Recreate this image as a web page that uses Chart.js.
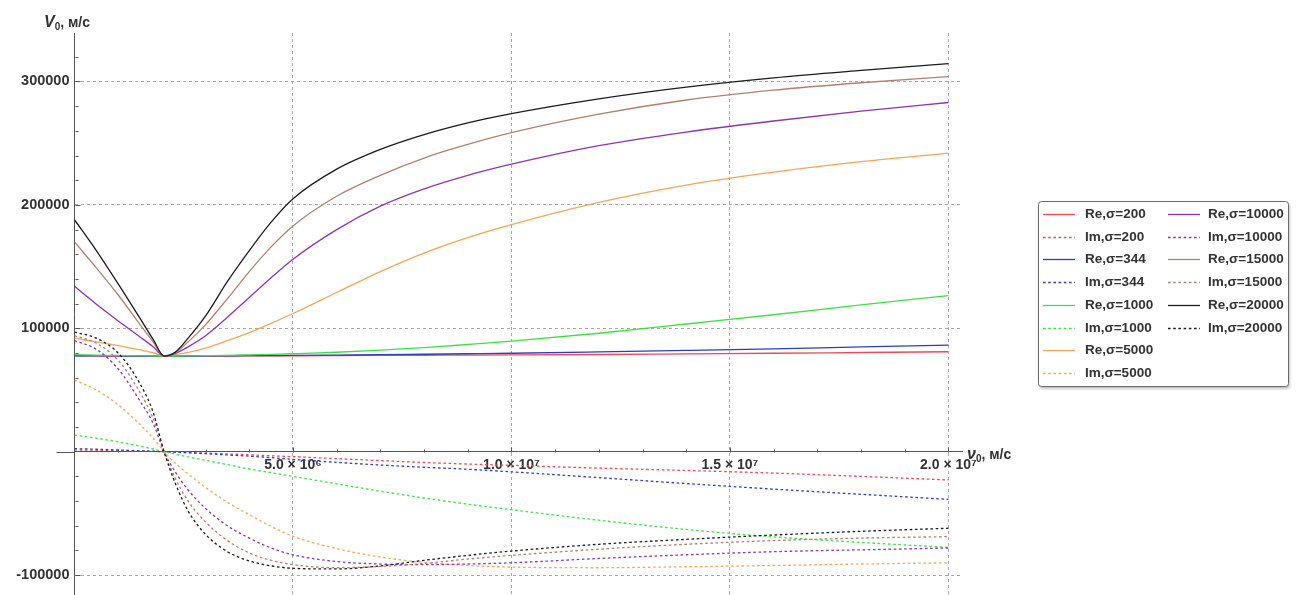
<!DOCTYPE html>
<html>
<head>
<meta charset="utf-8">
<script src="https://cdn.jsdelivr.net/npm/chart.js@4.4.1/dist/chart.umd.min.js"></script>
<style>
  html, body { margin: 0; padding: 0; background: #ffffff; }
  canvas { display: block; }
</style>
</head>
<body>
<canvas id="chart" width="1296" height="595"></canvas>
<script>
// Sample points of the initial velocity v0 (м/с)
const v0 = [0, 500000, 1000000, 1500000, 1800000, 2050000, 2300000, 2600000, 3000000, 3500000,
            4000000, 4500000, 5000000, 6000000, 7000000, 8000000, 9000000, 10000000,
            12000000, 14000000, 16000000, 18000000, 20000000];

const sigmas = [200, 344, 1000, 5000, 10000, 15000, 20000];

// Real parts of V0 for each sigma
const re200   = [77600, 77600, 77550, 77500, 77500, 77500, 77500, 77500, 77500, 77550, 77600, 77650, 77700, 77850, 78000, 78150, 78300, 78450, 78800, 79300, 79800, 80400, 81000];
const re344   = [77700, 77650, 77600, 77550, 77500, 77500, 77500, 77550, 77600, 77700, 77800, 77900, 78000, 78300, 78600, 79000, 79400, 79800, 80900, 82100, 83400, 84900, 86400];
const re1000  = [78600, 78300, 78000, 77700, 77600, 77500, 77550, 77650, 77800, 78100, 78500, 78900, 79400, 80600, 82300, 84400, 86900, 89600, 96000, 103500, 111000, 119000, 126500];
const re5000  = [92000, 89000, 86000, 82500, 80200, 77500, 78600, 80500, 84000, 90000, 96500, 104000, 112000, 129000, 146000, 161000, 173500, 184000, 202000, 216000, 226500, 235000, 242000];
const re10000 = [134000, 119500, 106000, 93000, 85000, 77500, 79500, 85000, 94000, 109000, 125000, 141000, 156000, 180000, 199000, 213000, 224000, 233000, 248000, 259000, 268000, 276000, 283000];
const re15000 = [170000, 149000, 127000, 103000, 89000, 77500, 80000, 89000, 103000, 124000, 146000, 166000, 183000, 207000, 224000, 238000, 249000, 258500, 273500, 285000, 293000, 299000, 304000];
const re20000 = [188000, 163000, 136000, 108000, 91000, 77500, 80500, 92000, 110000, 138000, 163000, 186000, 205000, 229000, 245000, 257000, 266500, 274000, 286000, 295500, 303000, 309000, 314500];

// Imaginary parts of V0 for each sigma
const im200   = [1500, 1200, 850, 500, 250, 0, -250, -600, -1100, -1800, -2500, -3300, -4000, -5600, -7200, -8700, -10000, -11000, -13300, -15200, -17300, -20000, -22900];
const im344   = [2500, 2000, 1400, 800, 400, 0, -400, -900, -1600, -2600, -3600, -4800, -6200, -8600, -10800, -12600, -14200, -16300, -21000, -25800, -30300, -34500, -38600];
const im1000  = [13500, 11000, 8000, 4500, 2200, 0, -2000, -4200, -7000, -10500, -14000, -17000, -20000, -26000, -32000, -37500, -42500, -47000, -55500, -63000, -69000, -73500, -77500];
const im5000  = [58000, 50000, 38000, 22000, 11000, 0, -9000, -18000, -29000, -41000, -51000, -60500, -68500, -78500, -85300, -89700, -92200, -93500, -94000, -93200, -92200, -91000, -90000];
const im10000 = [90000, 83000, 67000, 41000, 23000, 0, -16000, -31000, -46000, -60000, -70000, -78000, -83500, -89000, -91000, -91500, -91000, -90000, -86500, -83500, -81000, -79500, -78000];
const im15000 = [94000, 88000, 74000, 48000, 27000, 0, -21000, -40000, -57000, -72000, -82000, -88000, -91500, -94000, -93000, -90500, -87000, -84000, -79000, -75000, -72000, -70000, -68800];
const im20000 = [97000, 92000, 80000, 55000, 32000, 0, -25000, -48000, -67000, -81000, -88500, -92500, -94500, -95000, -92500, -88000, -84000, -80500, -75000, -71000, -67500, -64500, -62000];

// Axis ticks
const xTicks = [5000000, 10000000, 15000000, 20000000];
const xTickLabels = ['5.0 \u00d7 10\u2076', '1.0 \u00d7 10\u2077', '1.5 \u00d7 10\u2077', '2.0 \u00d7 10\u2077'];
const yTicks = [-100000, 100000, 200000, 300000];
const yTickLabels = ['-100000', '100000', '200000', '300000'];

// Axis titles: symbol, subscript, unit
const yTitle = ['V', '0', ', \u043c/\u0441'];
const xTitle = ['\u03bd', '0', ', \u043c/\u0441'];

const reSets = [re200, re344, re1000, re5000, re10000, re15000, re20000];
const imSets = [im200, im344, im1000, im5000, im10000, im15000, im20000];
const palette = ['#ec4a5c', '#2b3fbf', '#3ee04a', '#f2a65e', '#8a35b8', '#b3806f', '#1c1c1c'];

const FONT = '"Liberation Sans", Arial, sans-serif';
const TEXT = '#333333';

const datasets = [];
sigmas.forEach((s, i) => {
  datasets.push({
    label: 'Re,\u03c3=' + s,
    data: v0.map((x, k) => ({ x, y: reSets[i][k] })),
    borderColor: palette[i],
    borderWidth: 1.3,
    borderDash: []
  });
  datasets.push({
    label: 'Im,\u03c3=' + s,
    data: v0.map((x, k) => ({ x, y: imSets[i][k] })),
    borderColor: palette[i],
    borderWidth: 1.3,
    borderDash: [2.6, 2.6]
  });
});
datasets.forEach((d, i) => { d.order = datasets.length - i; d.fill = false; d.showLine = true; });

// Minor/major tick marks, axis stub and axis titles
const axisDecor = {
  id: 'axisDecor',
  afterDatasetsDraw(chart) {
    const { ctx, chartArea: a, scales: { x, y } } = chart;
    const yz = Math.round(y.getPixelForValue(0)) + 0.5;
    const xz = Math.round(x.getPixelForValue(0)) + 0.5;
    ctx.save();
    ctx.strokeStyle = '#555555';
    ctx.lineWidth = 1;
    ctx.beginPath();
    ctx.moveTo(a.left - 18, yz);
    ctx.lineTo(a.left, yz);
    for (let k = 1; k * 1e6 <= x.max; k++) {
      const px = Math.round(x.getPixelForValue(k * 1e6)) + 0.5;
      const len = k % 5 === 0 ? 5 : 3;
      ctx.moveTo(px, yz);
      ctx.lineTo(px, yz - len);
    }
    for (let k = Math.ceil(y.min / 20000); k * 20000 <= y.max; k++) {
      if (k === 0) continue;
      const py = Math.round(y.getPixelForValue(k * 20000)) + 0.5;
      const len = k % 5 === 0 ? 5 : 3;
      ctx.moveTo(xz, py);
      ctx.lineTo(xz + len, py);
    }
    ctx.stroke();

    const drawTitle = (parts, tx, ty) => {
      ctx.fillStyle = TEXT;
      ctx.textBaseline = 'alphabetic';
      ctx.textAlign = 'left';
      ctx.font = 'italic bold 16px ' + FONT;
      ctx.fillText(parts[0], tx, ty);
      let w = ctx.measureText(parts[0]).width;
      ctx.font = 'bold 10px ' + FONT;
      ctx.fillText(parts[1], tx + w, ty + 3);
      w += ctx.measureText(parts[1]).width;
      ctx.font = 'bold 14px ' + FONT;
      ctx.fillText(parts[2], tx + w, ty);
    };
    drawTitle(yTitle, 44, 27);
    drawTitle(xTitle, 967, yz + 6);
    ctx.restore();
  }
};

// Two-column framed legend
const framedLegend = {
  id: 'framedLegend',
  afterDraw(chart) {
    const { ctx } = chart;
    const ds = chart.data.datasets;
    const rows = 8;
    const box = { left: 1038.5, top: 201.5, right: 1288.5, bottom: 386.5 };
    const firstRow = 214, rowH = 22.7;
    const cols = [{ mark: 1043, text: 1085 }, { mark: 1168, text: 1208 }];
    ctx.save();
    ctx.shadowColor = 'rgba(0,0,0,0.3)';
    ctx.shadowBlur = 3;
    ctx.shadowOffsetX = 1;
    ctx.shadowOffsetY = 2;
    ctx.fillStyle = '#ffffff';
    ctx.beginPath();
    ctx.roundRect(box.left, box.top, box.right - box.left, box.bottom - box.top, 3);
    ctx.fill();
    ctx.shadowColor = 'transparent';
    ctx.strokeStyle = '#6a6a6a';
    ctx.lineWidth = 1;
    ctx.stroke();
    ctx.font = 'bold 13.5px ' + FONT;
    ctx.textBaseline = 'middle';
    ctx.textAlign = 'left';
    ds.forEach((d, i) => {
      const c = cols[Math.floor(i / rows)];
      const yy = Math.round(firstRow + (i % rows) * rowH) + 0.5;
      ctx.strokeStyle = d.borderColor;
      ctx.lineWidth = 1.3;
      ctx.setLineDash(d.borderDash);
      ctx.beginPath();
      ctx.moveTo(c.mark, yy);
      ctx.lineTo(c.mark + 32, yy);
      ctx.stroke();
      ctx.setLineDash([]);
      ctx.fillStyle = TEXT;
      ctx.fillText(d.label, c.text, yy);
    });
    ctx.restore();
  }
};

new Chart(document.getElementById('chart'), {
  type: 'scatter',
  data: { datasets },
  options: {
    responsive: false,
    animation: false,
    devicePixelRatio: 1,
    layout: { padding: { left: 0, right: 334, top: 33, bottom: 0 } },
    elements: {
      point: { radius: 0, hoverRadius: 0 },
      line: { cubicInterpolationMode: 'monotone', tension: 0.4 }
    },
    plugins: { legend: { display: false }, tooltip: { enabled: false } },
    scales: {
      x: {
        type: 'linear',
        min: 0,
        max: 20310000,
        position: { y: 0 },
        afterBuildTicks: (s) => { s.ticks = xTicks.map(v => ({ value: v })); },
        ticks: {
          autoSkip: false,
          maxRotation: 0,
          padding: 5,
          color: TEXT,
          font: { family: FONT, size: 14, weight: 'bold' },
          callback: (v) => xTickLabels[xTicks.indexOf(v)]
        },
        grid: { color: '#a8a8a8', lineWidth: 1, drawTicks: false },
        border: { display: true, color: '#555555', width: 1, dash: [3, 3] }
      },
      y: {
        type: 'linear',
        min: -116100,
        max: 339300,
        position: 'left',
        afterBuildTicks: (s) => { s.ticks = yTicks.map(v => ({ value: v })); },
        afterFit: (s) => { s.width = 74.5; s.paddingTop = 0; s.paddingBottom = 0; },
        ticks: {
          autoSkip: false,
          padding: 5,
          color: TEXT,
          font: { family: FONT, size: 14.5, weight: 'bold' },
          callback: (v) => yTickLabels[yTicks.indexOf(v)]
        },
        grid: { color: '#a8a8a8', lineWidth: 1, drawTicks: false },
        border: { display: true, color: '#555555', width: 1, dash: [3, 3] }
      }
    }
  },
  plugins: [axisDecor, framedLegend]
});
</script>
</body>
</html>
